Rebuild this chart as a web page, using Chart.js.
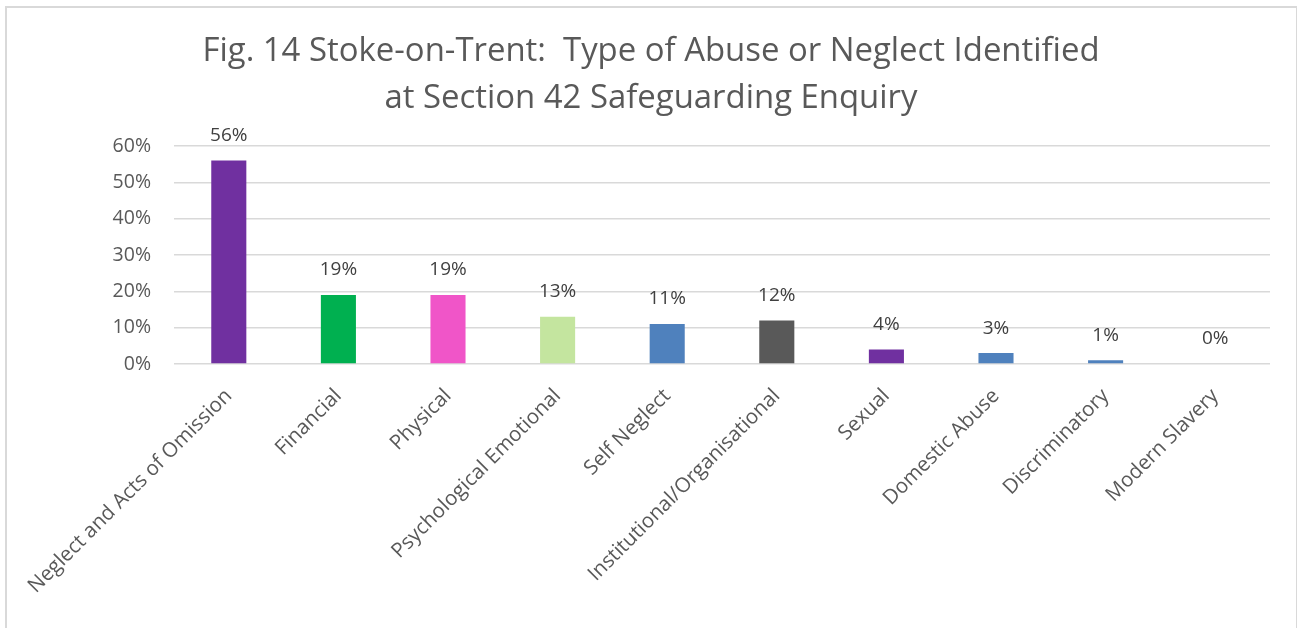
<!DOCTYPE html>
<html>
<head>
<meta charset="utf-8">
<script src="https://cdn.jsdelivr.net/npm/chart.js@4.4.0/dist/chart.umd.min.js"></script>
<style>
  html, body { margin: 0; padding: 0; background: #ffffff; overflow: hidden; }
  #frame { position: absolute; left: 5px; top: 6px; width: 1289px; height: 700px; border: 2px solid #d9d9d9; box-sizing: content-box; }
  #wrap { position: absolute; left: 0; top: 0; width: 1297px; height: 628px; }
</style>
</head>
<body>
<div id="frame"></div>
<div id="wrap"><canvas id="c" width="1297" height="628"></canvas></div>
<script>
const titleLines = ["Fig. 14 Stoke-on-Trent:  Type of Abuse or Neglect Identified", "at Section 42 Safeguarding Enquiry"];
const categories = ["Neglect and Acts of Omission", "Financial", "Physical", "Psychological Emotional", "Self Neglect", "Institutional/Organisational", "Sexual", "Domestic Abuse", "Discriminatory", "Modern Slavery"];
const values = [56, 19, 19, 13, 11, 12, 4, 3, 1, 0];
const barColors = ["#7030A0", "#00B050", "#F055C8", "#C4E59F", "#4F81BD", "#595959", "#7030A0", "#4F81BD", "#4F81BD", "#4F81BD"];
const yTickValues = [0, 10, 20, 30, 40, 50, 60];

const FONT = "'Open Sans', sans-serif";

const titlePlugin = {
  id: 'titlePlugin',
  afterDraw(chart) {
    const ctx = chart.ctx;
    ctx.save();
    ctx.fillStyle = '#595959';
    ctx.font = "33px " + FONT;
    ctx.textBaseline = 'middle';
    ctx.textAlign = 'center';
    const w0 = ctx.measureText(titleLines[0]).width;
    const sx = 897 / w0;
    const cx = 651;
    const ys = [52, 99];
    titleLines.forEach((t, i) => {
      ctx.save();
      ctx.translate(cx, ys[i]);
      ctx.scale(sx, 1);
      ctx.fillText(t, 0, 0);
      ctx.restore();
    });
    ctx.restore();
  }
};

const valueLabels = {
  id: 'valueLabels',
  afterDatasetsDraw(chart) {
    const ctx = chart.ctx;
    const meta = chart.getDatasetMeta(0);
    ctx.save();
    ctx.fillStyle = '#404040';
    ctx.font = "19px " + FONT;
    ctx.textAlign = 'center';
    ctx.textBaseline = 'middle';
    meta.data.forEach((bar, i) => {
      ctx.fillText(values[i] + '%', bar.x, bar.y - 25);
    });
    ctx.restore();
  }
};

new Chart(document.getElementById('c'), {
  type: 'bar',
  data: {
    labels: categories,
    datasets: [{
      data: values,
      backgroundColor: barColors,
      borderWidth: 0,
      barPercentage: 0.32,
      categoryPercentage: 1.0
    }]
  },
  options: {
    responsive: false,
    animation: false,
    devicePixelRatio: 1,
    layout: { padding: { top: 146, right: 27, left: 0, bottom: 0 } },
    plugins: {
      legend: { display: false },
      title: { display: false },
      tooltip: { enabled: false }
    },
    scales: {
      y: {
        min: 0,
        max: 60,
        afterFit(scale) { scale.width = 174; },
        afterBuildTicks(scale) { scale.ticks = yTickValues.map(v => ({ value: v })); },
        grid: { color: '#d9d9d9', lineWidth: 1.5, drawTicks: false },
        border: { display: false },
        ticks: {
          padding: 23,
          color: '#595959',
          font: { family: FONT, size: 19.5 },
          callback: v => v + '%'
        }
      },
      x: {
        afterFit(scale) { scale.height = 264; },
        grid: { display: false, drawTicks: false },
        border: { display: false },
        ticks: {
          autoSkip: false,
          maxRotation: 45,
          minRotation: 45,
          padding: 20,
          color: '#595959',
          font: { family: FONT, size: 20.5 }
        }
      }
    }
  },
  plugins: [titlePlugin, valueLabels]
});
</script>
</body>
</html>
